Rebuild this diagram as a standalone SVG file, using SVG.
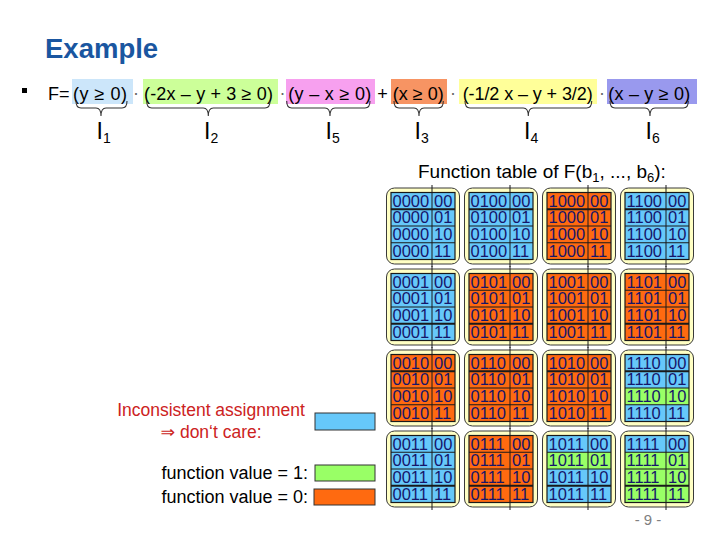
<svg xmlns="http://www.w3.org/2000/svg" width="720" height="540" viewBox="0 0 720 540">
<style>
text{font-family:"Liberation Sans","DejaVu Sans",Arial,sans-serif}
.fx{font-size:18px;fill:#000}
.dot{font-size:18px;fill:#666;text-anchor:middle}
.lab{font-size:23px;fill:#000}
.frame{fill:#ffffc4;stroke:#3a3a3a;stroke-width:1}
.dc{fill:#66c8fa}
.one{fill:#99ff66}
.zero{fill:#ff6a10}
.inner{fill:none;stroke:#1a1a1a;stroke-width:1.2}
.sep{stroke:#1a1a1a;stroke-width:1}
.sep2{stroke:#1a1a1a;stroke-width:2}
.div{stroke:#1a1a1a;stroke-width:1}
.d{font-size:16.5px;fill:#16166a}
.brace{fill:none;stroke:#333;stroke-width:1.1}
.red{font-size:17.5px;fill:#cc2222}
.blk{font-size:18px;fill:#000}
.box{stroke:#333;stroke-width:1}
</style>
<defs>
<g id="lines1">
<rect class="inner" x="4.5" y="4.5" width="64" height="67"/>
<line class="sep2" x1="4.5" y1="21.25" x2="68.5" y2="21.25"/>
<line class="sep" x1="4.5" y1="38" x2="68.5" y2="38"/>
<line class="sep" x1="4.5" y1="54.75" x2="68.5" y2="54.75"/>
<line class="div" x1="45.5" y1="-3" x2="45.5" y2="79"/>
</g>
<g id="lines2">
<rect class="inner" x="4.5" y="4.5" width="64" height="67"/>
<line class="sep" x1="4.5" y1="21.25" x2="68.5" y2="21.25"/>
<line class="sep" x1="4.5" y1="38" x2="68.5" y2="38"/>
<line class="sep2" x1="4.5" y1="54.75" x2="68.5" y2="54.75"/>
<line class="div" x1="45.5" y1="-3" x2="45.5" y2="79"/>
</g>
<g id="tail">
<text class="d" x="47.5" y="18.7">00</text>
<text class="d" x="47.5" y="35.45">01</text>
<text class="d" x="47.5" y="52.2">10</text>
<text class="d" x="47.5" y="68.95">11</text>
</g>
</defs>

<text x="45" y="58" font-size="27.5" font-weight="bold" fill="#1a56a0">Example</text>

<g id="formula">
<rect x="22" y="88" width="5" height="5" fill="#000"/>
<text class="fx" x="48" y="100">F=</text>
<rect x="72" y="79" width="61" height="25" fill="#cce6fa"/>
<text class="fx" x="73" y="100" textLength="54" lengthAdjust="spacing">(y ≥ 0)</text>
<text class="dot" x="136" y="99">·</text>
<rect x="143" y="79" width="135" height="25" fill="#ccff99"/>
<text class="fx" x="144" y="100" textLength="129" lengthAdjust="spacing">(-2x – y + 3 ≥ 0)</text>
<text class="dot" x="282.5" y="99">·</text>
<rect x="286" y="79" width="89" height="25" fill="#f7a0ef"/>
<text class="fx" x="288.3" y="100" textLength="83" lengthAdjust="spacing">(y – x ≥ 0)</text>
<text class="fx" x="382.5" y="100" text-anchor="middle">+</text>
<rect x="391" y="79" width="56" height="25" fill="#f79463"/>
<text class="fx" x="392.7" y="100" textLength="51" lengthAdjust="spacing">(x ≥ 0)</text>
<text class="dot" x="453" y="99">·</text>
<rect x="459" y="79" width="138" height="25" fill="#ffff99"/>
<text class="fx" x="462.7" y="100" textLength="130" lengthAdjust="spacing">(-1/2 x – y + 3/2)</text>
<text class="dot" x="602" y="99">·</text>
<rect x="607" y="79" width="90" height="25" fill="#9999ee"/>
<text class="fx" x="608.3" y="100" textLength="82" lengthAdjust="spacing">(x – y ≥ 0)</text>
</g>

<g id="braces">
<path class="brace" d="M76 101 Q76 108 81 108 L96 108 Q101 108 101 116 Q101 108 106 108 L122 108 Q127 108 127 101"/>
<path class="brace" d="M146.7 101 Q146.7 108 151.7 108 L203.3 108 Q208.3 108 208.3 116 Q208.3 108 213.3 108 L265 108 Q270 108 270 101"/>
<path class="brace" d="M286.7 101 Q286.7 108 291.7 108 L325 108 Q330 108 330 116 Q330 108 335 108 L365 108 Q370 108 370 101"/>
<path class="brace" d="M394 101 Q394 108 399 108 L414 108 Q419 108 419 116 Q419 108 424 108 L438.3 108 Q443.3 108 443.3 101"/>
<path class="brace" d="M465 101 Q465 108 470 108 L523.3 108 Q528.3 108 528.3 116 Q528.3 108 533.3 108 L586.7 108 Q591.7 108 591.7 101"/>
<path class="brace" d="M610 101 Q610 108 615 108 L645 108 Q650 108 650 116 Q650 108 655 108 L683.3 108 Q688.3 108 688.3 101"/>
</g>

<g id="labels">
<text class="lab" x="96.5" y="139">I<tspan font-size="14" dy="4">1</tspan></text>
<text class="lab" x="204" y="139">I<tspan font-size="14" dy="4">2</tspan></text>
<text class="lab" x="325.5" y="139">I<tspan font-size="14" dy="4">5</tspan></text>
<text class="lab" x="414.5" y="139">I<tspan font-size="14" dy="4">3</tspan></text>
<text class="lab" x="524" y="139">I<tspan font-size="14" dy="4">4</tspan></text>
<text class="lab" x="645.5" y="139">I<tspan font-size="14" dy="4">6</tspan></text>
</g>

<text x="418" y="178" font-size="19" fill="#000">Function table of F(b<tspan font-size="13" dy="4">1</tspan><tspan dy="-4">, ..., b</tspan><tspan font-size="13" dy="4">6</tspan><tspan dy="-4">):</tspan></text>

<g id="legend">
<text class="red" x="211" y="416" text-anchor="middle">Inconsistent assignment</text>
<text class="red" x="211" y="438" text-anchor="middle">⇒ don‘t care:</text>
<rect class="box dc" x="315" y="413" width="60" height="17"/>
<text class="blk" x="308" y="479" text-anchor="end">function value = 1:</text>
<rect class="box one" x="315" y="465" width="60" height="16"/>
<text class="blk" x="308" y="503" text-anchor="end">function value = 0:</text>
<rect class="box zero" x="314" y="489" width="61" height="16"/>
</g>

<!-- row 1 -->
<g id="b0000" transform="translate(386.5,188)">
<rect class="frame" width="73" height="76" rx="8"/>
<rect class="dc" x="4.5" y="4.5" width="64" height="67"/>
<use href="#lines1"/>
<text class="d" x="6" y="18.7">0000</text><text class="d" x="6" y="35.45">0000</text><text class="d" x="6" y="52.2">0000</text><text class="d" x="6" y="68.95">0000</text>
<use href="#tail"/>
</g>
<g id="b0100" transform="translate(464.5,188)">
<rect class="frame" width="73" height="76" rx="8"/>
<rect class="dc" x="4.5" y="4.5" width="64" height="67"/>
<use href="#lines1"/>
<text class="d" x="6" y="18.7">0100</text><text class="d" x="6" y="35.45">0100</text><text class="d" x="6" y="52.2">0100</text><text class="d" x="6" y="68.95">0100</text>
<use href="#tail"/>
</g>
<g id="b1000" transform="translate(542.5,188)">
<rect class="frame" width="73" height="76" rx="8"/>
<rect class="zero" x="4.5" y="4.5" width="64" height="67"/>
<use href="#lines1"/>
<text class="d" x="6" y="18.7">1000</text><text class="d" x="6" y="35.45">1000</text><text class="d" x="6" y="52.2">1000</text><text class="d" x="6" y="68.95">1000</text>
<use href="#tail"/>
</g>
<g id="b1100" transform="translate(620.5,188)">
<rect class="frame" width="73" height="76" rx="8"/>
<rect class="dc" x="4.5" y="4.5" width="64" height="67"/>
<use href="#lines1"/>
<text class="d" x="6" y="18.7">1100</text><text class="d" x="6" y="35.45">1100</text><text class="d" x="6" y="52.2">1100</text><text class="d" x="6" y="68.95">1100</text>
<use href="#tail"/>
</g>

<!-- row 2 -->
<g id="b0001" transform="translate(386.5,269)">
<rect class="frame" width="73" height="76" rx="8"/>
<rect class="dc" x="4.5" y="4.5" width="64" height="67"/>
<use href="#lines2"/>
<text class="d" x="6" y="18.7">0001</text><text class="d" x="6" y="35.45">0001</text><text class="d" x="6" y="52.2">0001</text><text class="d" x="6" y="68.95">0001</text>
<use href="#tail"/>
</g>
<g id="b0101" transform="translate(464.5,269)">
<rect class="frame" width="73" height="76" rx="8"/>
<rect class="zero" x="4.5" y="4.5" width="64" height="67"/>
<use href="#lines2"/>
<text class="d" x="6" y="18.7">0101</text><text class="d" x="6" y="35.45">0101</text><text class="d" x="6" y="52.2">0101</text><text class="d" x="6" y="68.95">0101</text>
<use href="#tail"/>
</g>
<g id="b1001" transform="translate(542.5,269)">
<rect class="frame" width="73" height="76" rx="8"/>
<rect class="zero" x="4.5" y="4.5" width="64" height="67"/>
<use href="#lines2"/>
<text class="d" x="6" y="18.7">1001</text><text class="d" x="6" y="35.45">1001</text><text class="d" x="6" y="52.2">1001</text><text class="d" x="6" y="68.95">1001</text>
<use href="#tail"/>
</g>
<g id="b1101" transform="translate(620.5,269)">
<rect class="frame" width="73" height="76" rx="8"/>
<rect class="zero" x="4.5" y="4.5" width="64" height="67"/>
<use href="#lines2"/>
<text class="d" x="6" y="18.7">1101</text><text class="d" x="6" y="35.45">1101</text><text class="d" x="6" y="52.2">1101</text><text class="d" x="6" y="68.95">1101</text>
<use href="#tail"/>
</g>

<!-- row 3 -->
<g id="b0010" transform="translate(386.5,350)">
<rect class="frame" width="73" height="76" rx="8"/>
<rect class="zero" x="4.5" y="4.5" width="64" height="67"/>
<use href="#lines1"/>
<text class="d" x="6" y="18.7">0010</text><text class="d" x="6" y="35.45">0010</text><text class="d" x="6" y="52.2">0010</text><text class="d" x="6" y="68.95">0010</text>
<use href="#tail"/>
</g>
<g id="b0110" transform="translate(464.5,350)">
<rect class="frame" width="73" height="76" rx="8"/>
<rect class="zero" x="4.5" y="4.5" width="64" height="67"/>
<use href="#lines1"/>
<text class="d" x="6" y="18.7">0110</text><text class="d" x="6" y="35.45">0110</text><text class="d" x="6" y="52.2">0110</text><text class="d" x="6" y="68.95">0110</text>
<use href="#tail"/>
</g>
<g id="b1010" transform="translate(542.5,350)">
<rect class="frame" width="73" height="76" rx="8"/>
<rect class="zero" x="4.5" y="4.5" width="64" height="67"/>
<use href="#lines1"/>
<text class="d" x="6" y="18.7">1010</text><text class="d" x="6" y="35.45">1010</text><text class="d" x="6" y="52.2">1010</text><text class="d" x="6" y="68.95">1010</text>
<use href="#tail"/>
</g>
<g id="b1110" transform="translate(620.5,350)">
<rect class="frame" width="73" height="76" rx="8"/>
<rect class="dc" x="4.5" y="4.5" width="64" height="33.5"/>
<rect class="one" x="4.5" y="38" width="64" height="16.75"/>
<rect class="dc" x="4.5" y="54.75" width="64" height="16.75"/>
<use href="#lines1"/>
<text class="d" x="6" y="18.7">1110</text><text class="d" x="6" y="35.45">1110</text><text class="d" x="6" y="52.2">1110</text><text class="d" x="6" y="68.95">1110</text>
<use href="#tail"/>
</g>

<!-- row 4 -->
<g id="b0011" transform="translate(386.5,431)">
<rect class="frame" width="73" height="76" rx="8"/>
<rect class="dc" x="4.5" y="4.5" width="64" height="67"/>
<use href="#lines2"/>
<text class="d" x="6" y="18.7">0011</text><text class="d" x="6" y="35.45">0011</text><text class="d" x="6" y="52.2">0011</text><text class="d" x="6" y="68.95">0011</text>
<use href="#tail"/>
</g>
<g id="b0111" transform="translate(464.5,431)">
<rect class="frame" width="73" height="76" rx="8"/>
<rect class="zero" x="4.5" y="4.5" width="64" height="67"/>
<use href="#lines2"/>
<text class="d" x="6" y="18.7">0111</text><text class="d" x="6" y="35.45">0111</text><text class="d" x="6" y="52.2">0111</text><text class="d" x="6" y="68.95">0111</text>
<use href="#tail"/>
</g>
<g id="b1011" transform="translate(542.5,431)">
<rect class="frame" width="73" height="76" rx="8"/>
<rect class="dc" x="4.5" y="4.5" width="64" height="16.75"/>
<rect class="one" x="4.5" y="21.25" width="64" height="16.75"/>
<rect class="dc" x="4.5" y="38" width="64" height="33.5"/>
<use href="#lines2"/>
<text class="d" x="6" y="18.7">1011</text><text class="d" x="6" y="35.45">1011</text><text class="d" x="6" y="52.2">1011</text><text class="d" x="6" y="68.95">1011</text>
<use href="#tail"/>
</g>
<g id="b1111" transform="translate(620.5,431)">
<rect class="frame" width="73" height="76" rx="8"/>
<rect class="dc" x="4.5" y="4.5" width="64" height="16.75"/>
<rect class="one" x="4.5" y="21.25" width="64" height="50.25"/>
<use href="#lines2"/>
<text class="d" x="6" y="18.7">1111</text><text class="d" x="6" y="35.45">1111</text><text class="d" x="6" y="52.2">1111</text><text class="d" x="6" y="68.95">1111</text>
<use href="#tail"/>
</g>

<text x="648" y="525" font-size="15" fill="#808080" text-anchor="middle">- 9 -</text>
</svg>
